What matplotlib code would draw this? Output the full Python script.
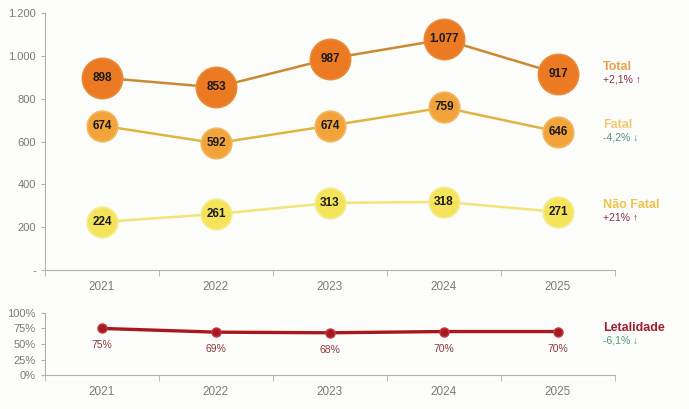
import matplotlib
matplotlib.use("Agg")
import matplotlib.pyplot as plt
from matplotlib.ticker import FixedLocator, FuncFormatter

plt.rcParams['font.family'] = ['Liberation Sans', 'DejaVu Sans']

years = ["2021", "2022", "2023", "2024", "2025"]
total = [898, 853, 987, 1077, 917]
fatal = [674, 592, 674, 759, 646]
nao_fatal = [224, 261, 313, 318, 271]
letalidade = [75, 69, 68, 70, 70]

series_names = ["Total", "Fatal", "Não Fatal"]
series_changes = ["+2,1% ↑", "-4,2% ↓", "+21% ↑"]
let_name = "Letalidade"
let_change = "-6,1% ↓"

y_ticks = [0, 200, 400, 600, 800, 1000, 1200]
y_labels = ["-", "200", "400", "600", "800", "1.000", "1.200"]
p_ticks = [0, 25, 50, 75, 100]

bg = "#fdfdfb"
fig = plt.figure(figsize=(6.89, 4.09), dpi=100, facecolor=bg)
ax = fig.add_axes([0.0653, 0.34, 0.8273, 0.628], facecolor=bg)
ax2 = fig.add_axes([0.0653, 0.083, 0.8273, 0.152], facecolor=bg)

x = list(range(len(years)))

styles = [
    dict(data=total, line="#c98a32", face="#ec7a22", edge="#e88a3a", ms=29,
         name_c="#eaa24a", chg_c="#8e2a4a"),
    dict(data=fatal, line="#dfb440", face="#f2a43a", edge="#f0b860", ms=22,
         name_c="#f2c870", chg_c="#4f9a6e"),
    dict(data=nao_fatal, line="#f3e47a", face="#f5e45a", edge="#f3ec90", ms=22,
         name_c="#f1c24a", chg_c="#8e2a4a"),
]

for s, nm, ch in zip(styles, series_names, series_changes):
    ax.plot(x, s["data"], color=s["line"], lw=1.8, zorder=2)
    ax.plot(x, s["data"], 'o', ms=s["ms"], markerfacecolor=s["face"],
            markeredgecolor=s["edge"], markeredgewidth=1.2, zorder=3)
    for xi, v in zip(x, s["data"]):
        lab = f"{v:,}".replace(",", ".")
        ax.text(xi, v, lab, ha="center", va="center", fontsize=8.5,
                fontweight="bold", color="#1a1a1a", zorder=4)
    ax.annotate(nm, xy=(x[-1], s["data"][-1]), xytext=(45, 1),
                textcoords="offset pixels", ha="left", va="bottom",
                fontsize=9, fontweight="bold", color=s["name_c"],
                annotation_clip=False)
    ax.annotate(ch, xy=(x[-1], s["data"][-1]), xytext=(45, -1),
                textcoords="offset pixels", ha="left", va="top",
                fontsize=7.5, color=s["chg_c"], annotation_clip=False)

ax.set_xlim(-0.5, len(years) - 0.5)
ax.set_ylim(0, 1200)
ax.yaxis.set_major_locator(FixedLocator(y_ticks))
ax.set_yticklabels(y_labels)
ax.set_xticks(x)
ax.set_xticklabels(years)
ax.set_xticks([i + 0.5 for i in range(-1, len(years))], minor=True)

for a in (ax, ax2):
    for sp in ("top", "right"):
        a.spines[sp].set_visible(False)
    for sp in ("left", "bottom"):
        a.spines[sp].set_color("#b0b0b0")
        a.spines[sp].set_linewidth(0.8)
    a.tick_params(axis="x", which="major", length=0, colors="#7a7a7a",
                  labelsize=8.5, pad=8)
    a.tick_params(axis="x", which="minor", length=4, color="#b0b0b0", direction="out")
    a.tick_params(axis="y", length=3, color="#b0b0b0", colors="#7a7a7a", labelsize=8)

# Bottom: letalidade
ax2.plot(x, letalidade, color="#a8191f", lw=2.4, marker="o", ms=6.5,
         markerfacecolor="#a8191f", markeredgecolor="#c0393f", zorder=3)
for xi, v in zip(x, letalidade):
    ax2.annotate(f"{v}%", xy=(xi, v), xytext=(0, -12), textcoords="offset pixels",
                 ha="center", va="top", fontsize=7.5, color="#8b3a3a")
ax2.annotate(let_name, xy=(x[-1], letalidade[-1]), xytext=(45, -2),
             textcoords="offset pixels", ha="left", va="bottom",
             fontsize=9, fontweight="bold", color="#9b1f30", annotation_clip=False)
ax2.annotate(let_change, xy=(x[-1], letalidade[-1]), xytext=(45, -4),
             textcoords="offset pixels", ha="left", va="top",
             fontsize=7.5, color="#4f9a6e", annotation_clip=False)
ax2.set_xlim(-0.5, len(years) - 0.5)
ax2.set_ylim(0, 100)
ax2.yaxis.set_major_locator(FixedLocator(p_ticks))
ax2.yaxis.set_major_formatter(FuncFormatter(lambda v, p: f"{int(v)}%"))
ax2.set_xticks(x)
ax2.set_xticklabels(years)
ax2.set_xticks([i + 0.5 for i in range(-1, len(years))], minor=True)

fig.savefig("out.png", dpi=100, facecolor=bg)
